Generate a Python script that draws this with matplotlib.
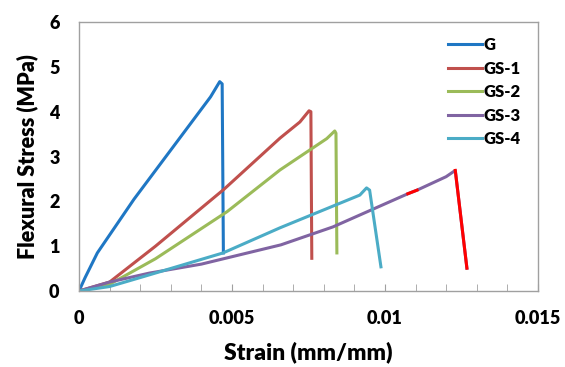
import matplotlib.pyplot as plt
from matplotlib.ticker import MultipleLocator

plt.rcParams['font.family'] = ['Lato', 'DejaVu Sans']

# strain (mm/mm) and flexural stress (MPa)
g_x = [0, 0.0002, 0.0006, 0.0018, 0.0043, 0.0046, 0.00468, 0.00472]
g_y = [0, 0.30, 0.85, 2.05, 4.33, 4.67, 4.62, 0.85]

gs1_x = [0, 0.0010, 0.0025, 0.00474, 0.00657, 0.00722, 0.00752, 0.00758, 0.00761]
gs1_y = [0, 0.20, 1.00, 2.27, 3.41, 3.77, 4.02, 4.00, 0.73]

gs2_x = [0, 0.0010, 0.0025, 0.00484, 0.00657, 0.0081, 0.00836, 0.0084, 0.00843]
gs2_y = [0, 0.15, 0.72, 1.77, 2.70, 3.40, 3.57, 3.52, 0.85]

gs3_x = [0, 0.0010, 0.0023, 0.0040, 0.0066, 0.0083, 0.01075, 0.01105, 0.0120, 0.0123, 0.01268]
gs3_y = [0, 0.20, 0.40, 0.60, 1.03, 1.43, 2.17, 2.25, 2.55, 2.69, 0.51]

gs4_x = [0, 0.0010, 0.0020, 0.00471, 0.00657, 0.00918, 0.00940, 0.00950, 0.00987]
gs4_y = [0, 0.10, 0.30, 0.85, 1.41, 2.14, 2.30, 2.25, 0.54]

names = ['G', 'GS-1', 'GS-2', 'GS-3', 'GS-4']
colors = ['#1F77C4', '#C0504D', '#9BBB59', '#8064A2', '#4BACC6']

x_ticks = [0, 0.005, 0.01, 0.015]
x_labels = ['0', '0.005', '0.01', '0.015']
y_ticks = [0, 1, 2, 3, 4, 5, 6]

fig = plt.figure(figsize=(5.65, 3.67), dpi=100)
ax = fig.add_axes([0.1398, 0.207, 0.8122, 0.733])

series = [(g_x, g_y), (gs1_x, gs1_y), (gs2_x, gs2_y), (gs3_x, gs3_y), (gs4_x, gs4_y)]
for (x, y), name, c in zip(series, names, colors):
    ax.plot(x, y, color=c, lw=2.2, label=name, solid_joinstyle='round')

# bright red pieces on the GS-3 curve
ax.plot(gs3_x[6:8], gs3_y[6:8], color='#FF0000', lw=2.2)
ax.plot(gs3_x[9:11], gs3_y[9:11], color='#FF0000', lw=2.2)

ax.set_xlim(0, 0.015)
ax.set_ylim(0, 6)
ax.set_xticks(x_ticks, x_labels)
ax.xaxis.set_minor_locator(MultipleLocator(0.001))
ax.set_yticks(y_ticks, [str(v) for v in y_ticks])

ax.tick_params(axis='x', which='both', direction='in', length=5, color='#A0A0A0',
               labelsize=13, pad=14)
ax.tick_params(axis='y', length=0, labelsize=13, pad=14)
for lab in ax.get_xticklabels() + ax.get_yticklabels():
    lab.set_fontweight('heavy')
for s in ax.spines.values():
    s.set_color('#A0A0A0')
    s.set_linewidth(1.0)

ax.set_xlabel('Strain (mm/mm)', fontsize=16.5, fontweight='heavy', labelpad=10)
ax.set_ylabel('Flexural Stress (MPa)', fontsize=15.5, fontweight='heavy', labelpad=8)

leg = ax.legend(loc='upper right', bbox_to_anchor=(0.995, 1.0), frameon=False,
                prop={'weight': 'heavy', 'size': 12}, handlelength=2.0,
                handletextpad=0.1, labelspacing=0.45)

fig.savefig('out.png', dpi=100)
